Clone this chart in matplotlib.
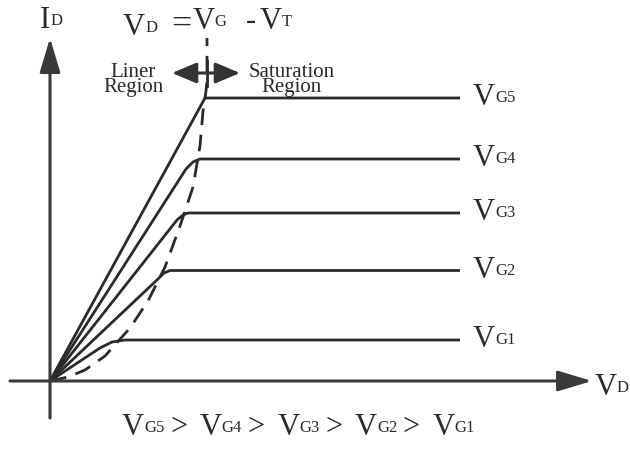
import matplotlib
matplotlib.use("Agg")
import matplotlib.pyplot as plt

plt.rcParams['font.family'] = ['Liberation Serif', 'DejaVu Serif']

# drain current curves (V_D, I_D), one per gate voltage
vg1_x = [0, 50, 62, 75, 410]
vg1_y = [0, 33, 39, 41, 41]
vg2_x = [0, 108, 114, 120, 410]
vg2_y = [0, 102, 108, 110.5, 110.5]
vg3_x = [0, 127, 133, 138, 410]
vg3_y = [0, 161, 166, 168, 168]
vg4_x = [0, 136, 143, 150, 410]
vg4_y = [0, 212, 219, 222, 222]
vg5_x = [0, 155, 410]
vg5_y = [0, 283, 283]

# V_D = V_G - V_T boundary (dashed)
bound_x = [0, 18, 35, 55, 80, 98, 115, 130, 143, 150, 153, 156, 157, 157]
bound_y = [0, 4, 11, 25, 53, 80, 114, 155, 194, 235, 270, 290, 300, 343]

curve_labels = ['G1', 'G2', 'G3', 'G4', 'G5']
curve_levels = [41, 110.5, 168, 222, 283]

ink = '#2a2a2a'
BIG, SUB = 22, 12
LIFT = 4.2  # points, puts small text back on the big text's baseline

fig = plt.figure(figsize=(6.3, 4.51), dpi=100)
ax = fig.add_axes([0, 0, 1, 1])
ax.set_xlim(-50, 580)
ax.set_ylim(-70, 381)
ax.axis('off')


def chain(x, y, pieces):
    # pieces: (text, size, gap before in points); share one baseline
    s, prev, _ = pieces[0]
    t = ax.text(x, y, s, fontsize=prev, va='baseline', ha='left', color=ink)
    for s, fs, gap in pieces[1:]:
        dy = LIFT if fs < prev else (-LIFT if fs > prev else 0)
        t = ax.annotate(s, xy=(1, 0), xycoords=t, xytext=(gap, dy),
                        textcoords='offset points', fontsize=fs,
                        va='bottom', ha='left', color=ink)
        prev = fs
    return t


# axes with arrow heads
head = dict(arrowstyle='-|>,head_length=1.4,head_width=0.42', mutation_scale=15,
            lw=2.2, color='#3a3a3a', shrinkA=0, shrinkB=0)
ax.annotate('', xy=(0, 343), xytext=(0, -37), arrowprops=head)
ax.annotate('', xy=(542, 0), xytext=(-40, 0), arrowprops=head)

for xs, ys in [(vg1_x, vg1_y), (vg2_x, vg2_y), (vg3_x, vg3_y),
               (vg4_x, vg4_y), (vg5_x, vg5_y)]:
    ax.plot(xs, ys, color=ink, lw=2, solid_capstyle='butt', solid_joinstyle='round')

ax.plot(bound_x, bound_y, color=ink, lw=2, linestyle=(0, (6, 3.5)))

# region arrow
arrow_y = 308
ax.annotate('', xy=(122, arrow_y), xytext=(190, arrow_y),
            arrowprops=dict(arrowstyle='<|-|>,head_length=1.0,head_width=0.42',
                            mutation_scale=15, lw=2.2, color='#333333',
                            shrinkA=0, shrinkB=0))
ax.plot([bound_x[-1]] * 2, [arrow_y - 13, arrow_y + 12], color=ink, lw=2)

ax.text(83, 301, 'Liner\nRegion', fontsize=15, ha='center', va='center',
        linespacing=0.72, color=ink)
ax.text(242, 301, 'Saturation\nRegion', fontsize=15, ha='center', va='center',
        linespacing=0.72, color=ink)

# labels
for name, lvl in zip(curve_labels, curve_levels):
    chain(423, lvl - 7, [('V', BIG, 0), (name, SUB, 0)])

chain(-10, 353, [('I', BIG, 0), ('D', SUB, 0)])
chain(545, -14, [('V', BIG, 0), ('D', SUB, -0.5)])
chain(73, 346, [('V', BIG, 0), ('D', SUB, 0), ('=', 26, 10), ('V', BIG, 1),
                ('G', SUB, 0), ('-', BIG, 14), ('V', BIG, 2), ('T', SUB, 0)])

bottom = [('V', BIG, 0), ('G5', SUB, 0)]
for name in ['G4', 'G3', 'G2', 'G1']:
    bottom += [('>', BIG, 4), ('V', BIG, 9), (name, SUB, 0)]
chain(72, -54, bottom)

fig.savefig('out.png', dpi=100)
